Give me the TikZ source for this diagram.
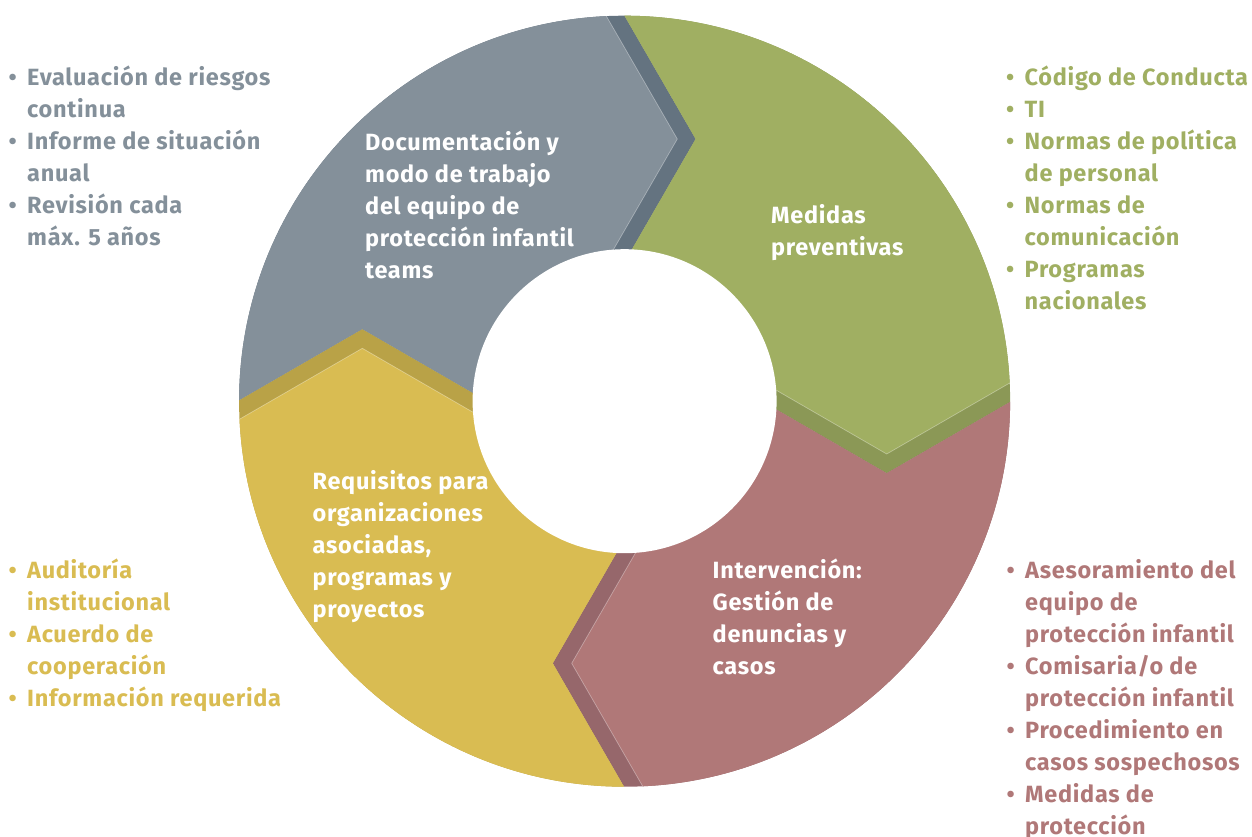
\documentclass[tikz,border=0pt]{standalone}
\usepackage{fontspec}
\setmainfont[LetterSpace=3.0]{Fira Sans}
\definecolor{grayL}{HTML}{84909A}
\definecolor{grayD}{HTML}{647380}
\definecolor{greenL}{HTML}{A0AF62}
\definecolor{greenD}{HTML}{8B9856}
\definecolor{redL}{HTML}{B07878}
\definecolor{redD}{HTML}{96676B}
\definecolor{yelL}{HTML}{D9BC52}
\definecolor{yelD}{HTML}{B9A247}
\newcommand\Li[1]{\vtop{\baselineskip=32bp\lineskiplimit=-\maxdimen #1}}
\newcommand\Bu[1]{\hbox{\llap{\hbox to 0pt{\hss\textbullet\hss}\hspace{14.5bp}}#1}}
\newcommand\Co[1]{\hbox{#1}}
\tikzset{
  txt/.style={inner sep=0pt, anchor=base west, font=\fontsize{23.5bp}{32bp}\selectfont\bfseries},
  edgeline/.style={draw=white, draw opacity=0.35, line width=0.7bp}
}
\begin{document}
\begin{tikzpicture}[x=1bp, y=-1bp]
\useasboundingbox (0,0) rectangle (1252,837);
\coordinate (C) at (624.6,401.2);
% chevron points
\coordinate (A1) at (677.3,139);   \coordinate (N1) at (695.7,139);
\coordinate (A1o) at (577.3,-34.2); \coordinate (A1i) at (607.3,260.2);
\coordinate (N1o) at (595.7,-34.2); \coordinate (N1i) at (625.7,260.2);
\coordinate (A2) at (886.7,454);   \coordinate (N2) at (886.7,473.3);
\coordinate (A2o) at (1059.9,354); \coordinate (A2i) at (765.5,384);
\coordinate (N2o) at (1059.9,373.3); \coordinate (N2i) at (765.5,403.3);
\coordinate (A3) at (571.7,663.3); \coordinate (N3) at (552.7,663.3);
\coordinate (A3i) at (641.7,542.1); \coordinate (A3o) at (671.7,836.5);
\coordinate (N3i) at (622.7,542.1); \coordinate (N3o) at (652.7,836.5);
\coordinate (A4) at (362.3,348.3); \coordinate (N4) at (362.3,329);
\coordinate (A4o) at (189.1,448.3); \coordinate (A4i) at (483.5,418.3);
\coordinate (N4o) at (189.1,429); \coordinate (N4i) at (483.5,399);
\begin{scope}
\clip (C) circle[radius=385.5bp];
% dark (stripe) layers
\fill[grayD] (N4o) -- (N4) -- (N4i) -- (C) -- (N1i) -- (N1) -- (N1o) -- (595.7,-200) -- (-200,-200) -- (-200,429) -- cycle;
\fill[greenD] (N1o) -- (N1) -- (N1i) -- (C) -- (N2i) -- (N2) -- (N2o) -- (1450,373.3) -- (1450,-200) -- (595.7,-200) -- cycle;
\fill[redD] (N2o) -- (N2) -- (N2i) -- (C) -- (N3i) -- (N3) -- (N3o) -- (652.7,1050) -- (1450,1050) -- (1450,373.3) -- cycle;
\fill[yelD] (N3o) -- (N3) -- (N3i) -- (C) -- (N4i) -- (N4) -- (N4o) -- (-200,429) -- (-200,1050) -- (652.7,1050) -- cycle;
% light layers
\fill[grayL] (N4o) -- (N4) -- (N4i) -- (C) -- (A1i) -- (A1) -- (A1o) -- (577.3,-200) -- (-200,-200) -- (-200,429) -- cycle;
\fill[greenL] (N1o) -- (N1) -- (N1i) -- (C) -- (A2i) -- (A2) -- (A2o) -- (1450,354) -- (1450,-200) -- (595.7,-200) -- cycle;
\fill[redL] (N2o) -- (N2) -- (N2i) -- (C) -- (A3i) -- (A3) -- (A3o) -- (671.7,1050) -- (1450,1050) -- (1450,373.3) -- cycle;
\fill[yelL] (N3o) -- (N3) -- (N3i) -- (C) -- (A4i) -- (A4) -- (A4o) -- (-200,448.3) -- (-200,1050) -- (652.7,1050) -- cycle;
\draw[edgeline] (A1o) -- (A1) -- (A1i);
\draw[edgeline] (A2o) -- (A2) -- (A2i);
\draw[edgeline] (A3o) -- (A3) -- (A3i);
\draw[edgeline] (A4o) -- (A4) -- (A4i);
\end{scope}
\fill[white] (C) circle[radius=152bp];
% inner labels
\node[txt, text=white] (tGray) at (365,150) {\Li{\Co{Documentación y}\Co{modo de trabajo}\Co{del equipo de}\Co{protección infantil}\Co{teams}}};
\node[txt, text=white] (tGreen) at (771,223.3) {\Li{\Co{Medidas}\Co{preventivas}}};
\node[txt, text=white] (tYel) at (312.5,489.3) {\Li{\Co{Requisitos para}\Co{organizaciones}\Co{asociadas,}\Co{programas y}\Co{proyectos}}};
\node[txt, text=white] (tRed) at (712.5,578.3) {\Li{\Co{Intervención:}\Co{Gestión de}\Co{denuncias y}\Co{casos}}};
% outer lists
\node[txt, text=grayL] (lGray) at (27,85) {\Li{\Bu{Evaluación de riesgos}\Co{continua}\Bu{Informe de situación}\Co{anual}\Bu{Revisión cada}\Co{máx. 5 años}}};
\node[txt, text=greenL] (lGreen) at (1024.5,85) {\Li{\Bu{Código de Conducta}\Bu{TI}\Bu{Normas de política}\Co{de personal}\Bu{Normas de}\Co{comunicación}\Bu{Programas}\Co{nacionales}}};
\node[txt, text=yelL] (lYel) at (27,578.3) {\Li{\Bu{Auditoría}\Co{institucional}\Bu{Acuerdo de}\Co{cooperación}\Bu{Información requerida}}};
\node[txt, text=redL] (lRed) at (1025,578.3) {\Li{\Bu{Asesoramiento del}\Co{equipo de}\Co{protección infantil}\Bu{Comisaria/o de}\Co{protección infantil}\Bu{Procedimiento en}\Co{casos sospechosos}\Bu{Medidas de}\Co{protección}}};
\end{tikzpicture}
\end{document}
